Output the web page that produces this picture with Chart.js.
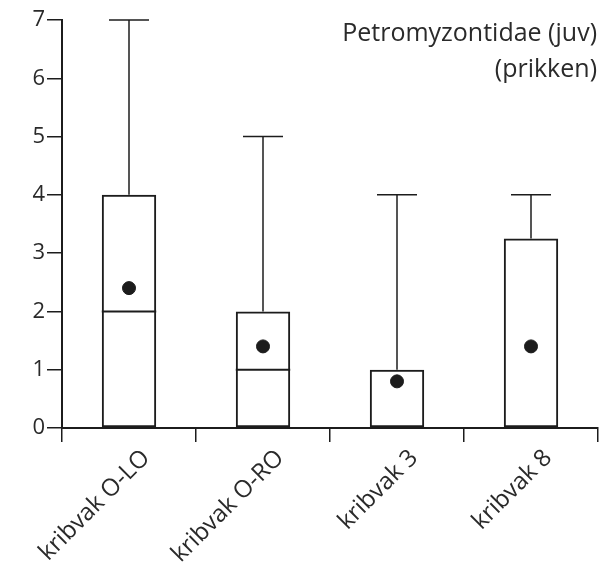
<!DOCTYPE html>
<html>
<head>
<meta charset="utf-8">
<script src="https://cdn.jsdelivr.net/npm/chart.js@4.4.1/dist/chart.umd.min.js"></script>
<style>
html,body{margin:0;padding:0;background:#fff;}
#wrap{width:606px;height:577px;position:relative;}
</style>
</head>
<body>
<div id="wrap"><canvas id="c" width="606" height="577"></canvas></div>
<script>
const categories = ["kribvak O-LO", "kribvak O-RO", "kribvak 3", "kribvak 8"];
const q1Values = [0, 0, 0, 0];
const medianValues = [2, 1, 0, 0];
const q3Values = [4, 2, 1, 3.25];
const maxValues = [7, 5, 4, 4];
const minValues = [0, 0, 0, 0];
const meanValues = [2.4, 1.4, 0.8, 1.4];
const yTicks = [0, 1, 2, 3, 4, 5, 6, 7];
const titleLines = ["Petromyzontidae (juv)", "(prikken)"];

const INK = '#1c1c1c';
const FONT = "'Open Sans', sans-serif";

const boxPlugin = {
  id: 'boxExtras',
  afterDatasetsDraw(chart) {
    const ctx = chart.ctx, x = chart.scales.x, y = chart.scales.y;
    const meta = chart.getDatasetMeta(0);
    ctx.save();
    ctx.strokeStyle = INK;
    categories.forEach((c, i) => {
      const cx = x.getPixelForValue(i);
      const bar = meta.data[i];
      const half = bar.width / 2;
      ctx.lineWidth = 1.5;
      ctx.beginPath();
      ctx.moveTo(cx, y.getPixelForValue(q3Values[i]));
      ctx.lineTo(cx, y.getPixelForValue(maxValues[i]));
      ctx.stroke();
      ctx.beginPath();
      ctx.moveTo(cx - 20, y.getPixelForValue(maxValues[i]));
      ctx.lineTo(cx + 20, y.getPixelForValue(maxValues[i]));
      ctx.stroke();
      ctx.lineWidth = 2;
      ctx.beginPath();
      ctx.moveTo(cx - half, y.getPixelForValue(medianValues[i]));
      ctx.lineTo(cx + half, y.getPixelForValue(medianValues[i]));
      ctx.stroke();
    });
    ctx.fillStyle = '#2a2a2a';
    ctx.font = "25px " + FONT;
    ctx.textAlign = 'right';
    ctx.textBaseline = 'alphabetic';
    ctx.fillText(titleLines[0], 597, 41);
    ctx.fillText(titleLines[1], 597, 77);
    ctx.restore();
  }
};

new Chart(document.getElementById('c'), {
  type: 'bar',
  data: {
    labels: categories,
    datasets: [
      {
        type: 'bar',
        data: q1Values.map((v, i) => [v, q3Values[i]]),
        backgroundColor: 'rgba(255,255,255,0)',
        borderColor: INK,
        borderWidth: 2,
        borderSkipped: false,
        categoryPercentage: 1,
        barPercentage: 0.406,
        order: 2
      },
      {
        type: 'line',
        data: meanValues,
        showLine: false,
        pointRadius: 6.5,
        pointBackgroundColor: INK,
        pointBorderColor: INK,
        order: 1
      }
    ]
  },
  plugins: [boxPlugin],
  options: {
    responsive: false,
    animation: false,
    layout: { padding: { top: 20, right: 8, left: 0, bottom: 0 } },
    plugins: { legend: { display: false }, tooltip: { enabled: false } },
    scales: {
      x: {
        offset: true,
        grid: { offset: true, drawOnChartArea: false, drawTicks: true, tickLength: 14, color: INK, lineWidth: 1.5 },
        border: { color: INK, width: 2 },
        ticks: { color: '#2a2a2a', font: { family: FONT, size: 24 }, maxRotation: 45, minRotation: 45, labelOffset: 17, padding: 2 },
        afterFit(s) { s.height = 149; }
      },
      y: {
        min: 0, max: 7,
        afterBuildTicks(s) { s.ticks = yTicks.map(v => ({ value: v })); },
        grid: { drawOnChartArea: false, drawTicks: true, tickLength: 15, color: INK, lineWidth: 1.5 },
        border: { color: INK, width: 2 },
        ticks: { color: '#2a2a2a', font: { family: FONT, size: 22 }, padding: 2 },
        afterFit(s) { s.width = 62; }
      }
    }
  }
});
</script>
</body>
</html>
